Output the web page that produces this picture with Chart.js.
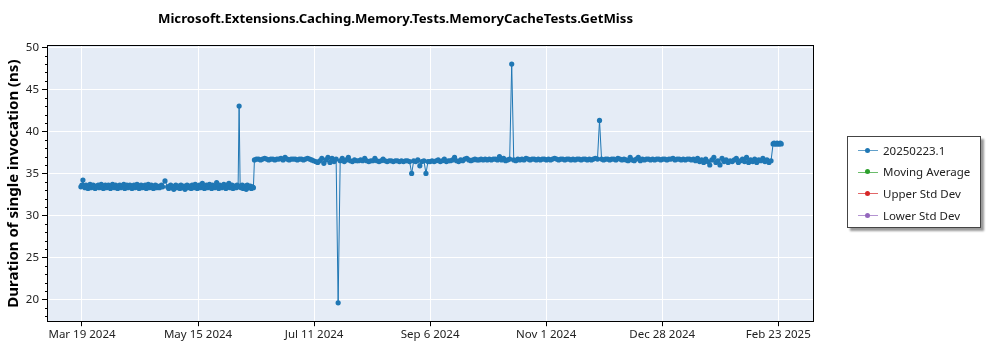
<!DOCTYPE html>
<html>
<head>
<meta charset="utf-8">
<script src="https://cdn.jsdelivr.net/npm/chart.js@4.4.1/dist/chart.umd.min.js"></script>
<style>
    body { margin: 0; background: #fff; }
    #wrap { position: relative; width: 1000px; height: 350px; }
    #title {
        position: absolute; left: 0; top: 9px; width: 791px; text-align: center;
        font-family: "Noto Sans", sans-serif; font-weight: bold; font-size: 13.2px; color: #000;
    }
    #legend {
        position: absolute; left: 847px; top: 136px; width: 132px; height: 90px;
        border: 1px solid #444; background: #fff; box-shadow: 3px 3px 2px #999;
        font-family: "Noto Sans", sans-serif; font-size: 11.5px; color: #222;
    }
    .item { position: absolute; left: 10px; height: 20px; display: flex; align-items: center; }
    .sample { position: relative; width: 20px; height: 20px; margin-right: 5px; }
    .sample .ln { position: absolute; left: 0; right: 0; top: 10px; height: 1px; opacity: 0.7; }
    .sample .dot { position: absolute; left: 7px; top: 7.5px; width: 5px; height: 5px; border-radius: 50%; }
</style>
</head>
<body>
<div id="wrap">
    <canvas id="chart" width="1000" height="350"></canvas>
    <div id="title">Microsoft.Extensions.Caching.Memory.Tests.MemoryCacheTests.GetMiss</div>
    <div id="legend"></div>
</div>
<script>
// дни считаются от 19 марта 2024 (день 0)
const baseDate = [2024, 2, 19];
const monthNames = ["Jan", "Feb", "Mar", "Apr", "May", "Jun", "Jul", "Aug", "Sep", "Oct", "Nov", "Dec"];
const xTickDays = [0.55, 57.38, 114.22, 171.05, 227.88, 284.72, 341.55];
const yTicks = [20, 25, 30, 35, 40, 45, 50];

// значения по периодам (первые два - по два замера в день)
const marchApril = [
    33.4, 33.6, 34.2, 33.5, 33.3, 33.6, 33.4, 33.2, 33.5, 33.7,
    33.3, 33.5, 33.6, 33.4, 33.2, 33.5, 33.4, 33.6, 33.3, 33.5,
    33.7, 33.4, 33.2, 33.5, 33.6, 33.3, 33.4, 33.6, 33.5, 33.2,
    33.4, 33.7, 33.5, 33.3, 33.6, 33.4, 33.2, 33.5, 33.6, 33.3,
    33.5, 33.4, 33.7, 33.2, 33.5, 33.6, 33.3, 33.4, 33.6, 33.5,
    33.2, 33.4, 33.6, 33.3, 33.5, 33.7, 33.4, 33.2, 33.5, 33.6,
    33.3, 33.5, 33.4, 33.6, 33.2, 33.5, 33.7, 33.3, 33.4, 33.6,
    33.5, 33.2, 33.4, 33.6, 33.3, 33.5, 33.4, 33.3, 33.5, 33.6,
    33.4
];
const lateApril = [34.1];
const aprilJune = [
    33.4, 33.2, 33.5, 33.6, 33.3, 33.4, 33.1, 33.5, 33.6, 33.3,
    33.4, 33.5, 33.2, 33.6, 33.4, 33.3, 33.5, 33.1, 33.4, 33.6,
    33.3, 33.5, 33.4, 33.2, 33.6, 33.5, 33.3, 33.7, 33.4, 33.2,
    33.5, 33.6, 33.3, 33.4, 33.8, 33.5, 33.2, 33.4, 33.6, 33.3,
    33.5, 33.7, 33.4, 33.2, 33.6, 33.5, 33.3, 33.4, 33.9, 33.5,
    33.2, 33.6, 33.4, 33.3, 33.5, 33.7, 33.4, 33.2, 33.6, 33.5,
    33.8, 33.3, 33.4, 33.6, 33.2, 33.5, 33.4, 33.3, 33.6, 33.4,
    43.0, 33.5, 33.3, 33.6, 33.2, 33.4, 33.5, 33.1, 33.6, 33.3,
    33.4, 33.5, 33.2, 33.4, 33.3
];
const juneJuly = [
    36.6, 36.7, 36.7, 36.6, 36.7, 36.8, 36.7, 36.6, 36.7, 36.7,
    36.6, 36.7, 36.7, 36.8, 36.6, 36.9, 36.7, 36.6, 36.7, 36.7,
    36.7, 36.6, 36.7, 36.7, 36.6, 36.7, 36.8, 36.7, 36.6, 36.5
];
const julyAug = [
    36.4, 36.3, 36.5, 36.8, 36.2, 36.6, 36.9, 36.3, 36.8, 36.4,
    36.7, 19.6, 36.5, 36.8, 36.4, 36.6, 36.9, 36.5, 36.4, 36.6,
    36.5
];
const august = [
    36.5, 36.6, 36.5, 36.8, 36.5, 36.4, 36.5, 36.5, 36.8, 36.5,
    36.4, 36.5, 36.7, 36.5, 36.4, 36.5, 36.5, 36.4, 36.5, 36.5,
    36.4, 36.5, 36.4, 36.5, 36.5, 36.4
];
const augSep = [
    35.0, 36.5, 36.4, 36.6, 35.9, 36.4, 36.5, 35.0, 36.4, 36.4,
    36.5, 36.4, 36.5, 36.6, 36.4, 36.5, 36.7, 36.4, 36.5
];
const sepOct = [
    36.5, 36.6, 36.9, 36.5, 36.4, 36.6, 36.5, 36.7, 36.8, 36.6,
    36.5, 36.6, 36.7, 36.6, 36.6, 36.7, 36.6, 36.7, 36.6, 36.7,
    36.6, 36.7, 36.7, 36.6, 37.0, 36.6, 36.8, 36.5, 36.6, 36.7
];
const octNov = [
    48.0, 36.6, 36.5, 36.7, 36.6, 36.7, 36.6, 36.8, 36.7, 36.6,
    36.7, 36.7, 36.6, 36.7, 36.6, 36.7, 36.7, 36.6, 36.7, 36.6,
    36.7, 36.8, 36.7, 36.6, 36.7, 36.7, 36.6, 36.7, 36.7, 36.6,
    36.7, 36.6, 36.7, 36.7, 36.6, 36.7, 36.7, 36.6, 36.7, 36.6,
    36.7, 36.8
];
const novJan = [
    36.7, 41.3, 36.7, 36.6, 36.7, 36.7, 36.6, 36.7, 36.7, 36.6,
    36.8, 36.7, 36.6, 36.7, 36.6, 36.5, 36.9, 36.6, 36.5, 36.7,
    36.9, 36.5, 36.7, 36.6, 36.7, 36.7, 36.6, 36.7, 36.6, 36.7,
    36.7, 36.6, 36.7, 36.7, 36.6, 36.7, 36.7, 36.8, 36.6, 36.7,
    36.7, 36.6, 36.7, 36.6, 36.7, 36.7, 36.6
];
const janFeb = [
    36.7, 36.5, 36.8, 36.4, 36.6, 36.3, 36.7, 36.4, 36.0, 36.6,
    36.9, 36.3, 36.5, 36.0, 36.8, 36.4, 36.6, 36.3, 36.5, 36.4,
    36.6, 36.8, 36.3, 36.5, 36.7, 36.4, 36.9, 36.3, 36.6, 36.4,
    36.7, 36.3, 36.6, 36.5, 36.8, 36.4, 36.6, 36.3, 36.5
];
const febEnd = [38.5, 38.6, 38.5, 38.5, 38.6, 38.5, 38.5, 38.6, 38.5];

const periods = [marchApril, lateApril, aprilJune, juneJuly, julyAug, august, augSep, sepOct, octNov, novJan, janFeb, febEnd];
const periodStartDays = [0, 41.2, 42.5, 85, 115, 136, 162, 181, 211, 253, 300, 339];
const periodSteps = [0.5, 1, 0.5, 1, 1, 1, 1, 1, 1, 1, 1, 0.5];

const points = [];
periods.forEach((values, p) => {
    values.forEach((v, i) => points.push({ x: periodStartDays[p] + i * periodSteps[p], y: v }));
});

const FONT = '"Noto Sans", "Open Sans", sans-serif';

function dayLabel(day) {
    const d = new Date(baseDate[0], baseDate[1], baseDate[2] + Math.floor(day));
    return `${monthNames[d.getMonth()]} ${d.getDate()} ${d.getFullYear()}`;
}

// фон области графика, рамка и малые деления по оси Y
const plotFrame = {
    id: 'plotFrame',
    beforeDraw(chart) {
        const a = chart.chartArea;
        const ctx = chart.ctx;
        ctx.save();
        ctx.fillStyle = '#E5ECF6';
        ctx.fillRect(a.left, a.top, a.right - a.left, a.bottom - a.top);
        ctx.restore();
    },
    afterDraw(chart) {
        const a = chart.chartArea;
        const ctx = chart.ctx;
        const y = chart.scales.y;
        ctx.save();
        ctx.strokeStyle = '#000';
        ctx.lineWidth = 1;
        ctx.strokeRect(Math.round(a.left) - 0.5, Math.round(a.top) - 0.5, Math.round(a.right - a.left) + 1, Math.round(a.bottom - a.top) + 1);
        ctx.beginPath();
        for (let v = Math.ceil(y.min); v <= y.max; v++) {
            if (v % 5 === 0) continue;
            const py = Math.round(y.getPixelForValue(v)) + 0.5;
            ctx.moveTo(a.left - 3, py);
            ctx.lineTo(a.left, py);
        }
        ctx.stroke();
        ctx.restore();
    }
};

const chart = new Chart(document.getElementById('chart'), {
    type: 'line',
    data: {
        datasets: [
            {
                label: '20250223.1',
                data: points,
                borderColor: '#1f77b4',
                backgroundColor: '#1f77b4',
                borderWidth: 1,
                pointRadius: 2.6,
                pointBorderWidth: 0,
                pointBackgroundColor: '#1f77b4',
            },
            { label: 'Moving Average', data: [], borderColor: '#2ca02c', backgroundColor: '#2ca02c' },
            { label: 'Upper Std Dev', data: [], borderColor: '#d62728', backgroundColor: '#d62728' },
            { label: 'Lower Std Dev', data: [], borderColor: '#9467bd', backgroundColor: '#9467bd' },
        ]
    },
    options: {
        responsive: false,
        animation: false,
        layout: { padding: { left: 0, right: 187, top: 46, bottom: 6 } },
        plugins: {
            legend: { display: false },
            tooltip: { enabled: false },
        },
        scales: {
            x: {
                type: 'linear',
                min: -16.1,
                max: 358.55,
                afterBuildTicks: axis => { axis.ticks = xTickDays.map(v => ({ value: v })); },
                ticks: {
                    callback: v => dayLabel(v),
                    color: '#222',
                    font: { family: FONT, size: 11.5 },
                    maxRotation: 0,
                    padding: 2,
                },
                grid: { color: '#fff', lineWidth: 1, tickColor: '#000', tickLength: 5 },
                border: { display: false },
            },
            y: {
                min: 17.42,
                max: 50.15,
                afterBuildTicks: axis => { axis.ticks = yTicks.map(v => ({ value: v })); },
                afterFit: scale => { scale.width = 48; },
                ticks: {
                    color: '#222',
                    font: { family: FONT, size: 11.5 },
                    padding: 3,
                },
                grid: { color: '#fff', lineWidth: 1, tickColor: '#000', tickLength: 6 },
                border: { display: false },
                title: {
                    display: true,
                    text: 'Duration of single invocation (ns)',
                    color: '#000',
                    font: { family: FONT, size: 15, weight: 'bold' },
                    padding: { top: 5, bottom: 0 },
                }
            }
        }
    },
    plugins: [plotFrame]
});

// легенда справа, в рамке с тенью
const legendBox = document.getElementById('legend');
chart.data.datasets.forEach((ds, i) => {
    const item = document.createElement('div');
    item.className = 'item';
    item.style.top = (3 + i * 21.7) + 'px';
    item.innerHTML = `<span class="sample"><span class="ln" style="background:${ds.borderColor}"></span>` +
        `<span class="dot" style="background:${ds.borderColor}"></span></span><span>${ds.label}</span>`;
    legendBox.appendChild(item);
});
</script>
</body>
</html>
